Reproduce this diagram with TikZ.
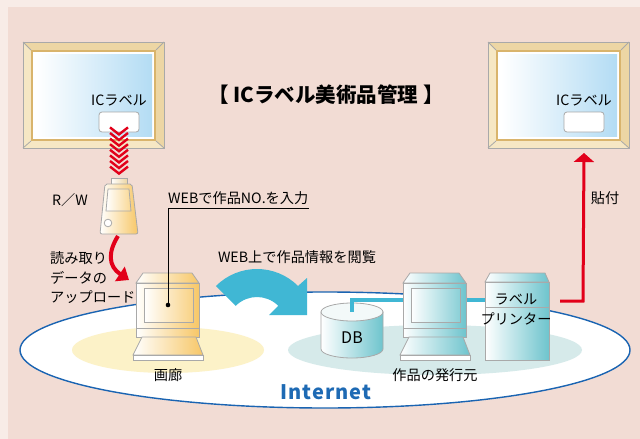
\documentclass[tikz,border=0pt]{standalone}
\usepackage{fontspec}
\setmainfont{Noto Sans CJK JP}
\usetikzlibrary{arrows.meta,calc}

\definecolor{bgout}{HTML}{F8ECE7}
\definecolor{bgpanel}{HTML}{F2DCD4}
\definecolor{moldlight}{HTML}{F6E7C4}
\definecolor{moldmid}{HTML}{EDD6A4}
\definecolor{molddark}{HTML}{D9B46C}
\definecolor{picblue}{HTML}{B3DCF4}
\definecolor{redc}{HTML}{E2001A}
\definecolor{tealc}{HTML}{40B7D4}
\definecolor{yellowell}{HTML}{FCF2C8}
\definecolor{tealell}{HTML}{D6EAEA}
\definecolor{inetblue}{HTML}{1E6AB4}
\definecolor{ellblue}{HTML}{1A64B2}
\definecolor{orangec}{HTML}{F7C767}
\definecolor{compteal}{HTML}{6EC4CD}
\definecolor{edgegray}{HTML}{A9A9A9}

\tikzset{
  x=1pt, y=-1pt,
  txt/.style={font=\fontsize{14.2}{19.5}\selectfont, inner sep=0pt},
  edge/.style={draw=edgegray, line width=0.8},
  tagbox/.style={draw=edgegray, fill=white, rounded corners=3, line width=0.8,
    minimum width=40, minimum height=20, inner sep=0pt},
  chevron/.style={draw=redc, line width=2.4},
  % picture frame with an IC tag on the canvas
  pics/artframe/.style={code={
    \fill[moldlight] (0,0) rectangle (141,106);
    \fill[moldmid] (0,0) -- (141,0) -- (133,8) -- (8,8) -- cycle;
    \fill[moldmid] (141,0) -- (141,106) -- (133,99) -- (133,8) -- cycle;
    \draw[edge] (0,0) rectangle (141,106);
    \draw[edge] (0,0) -- (8,8) (141,0) -- (133,8) (141,106) -- (133,99) (0,106) -- (8,99);
    \fill[molddark] (8,8) rectangle (133,99);
    \fill[white] (10,10) rectangle (131,97);
    \shade[left color=white, right color=picblue] (13,12) rectangle (129,94);
    \node[txt] (-lbl) at (96,58) {ICラベル};
    \node[tagbox] (-tag) at (96,80) {};
  }},
  % desktop computer, #1 is the tint colour
  pics/computer/.style={code={
    \shade[left color=white, right color=#1, edge] (7,0) -- (56,0) -- (63,10) -- (0,10) -- cycle;
    \shade[left color=white, right color=#1, edge] (0,10) rectangle (63,64);
    \draw[edge] (0,55) -- (63,55);
    \shade[left color=white, right color=#1!80, edge] (8,15) rectangle (57,49);
    \shade[left color=white, right color=#1, edge] (6,64) -- (60,64) -- (67,82) -- (-3,82) -- cycle;
    \fill[white] (-3,82) rectangle (67,87);
    \draw[edge] (-3,82) rectangle (67,87);
    \coordinate (-dot) at (32,32);
    \coordinate (-top) at (32,0);
  }},
}

\begin{document}
\begin{tikzpicture}
\useasboundingbox (0,0) rectangle (640,439);
% background
\fill[bgout] (0,0) rectangle (640,439);
\fill[bgpanel] (8,7) rectangle (640,439);

% network zone
\draw[ellblue, fill=white, line width=1.4] (325,350) ellipse [x radius=305, y radius=58];
\fill[yellowell] (168,350) ellipse [x radius=96, y radius=23];
\fill[tealell] (435,350) ellipse [x radius=147, y radius=25];
\node[font=\fontsize{20}{20}\selectfont\bfseries, text=inetblue, inner sep=0pt] (inet) at (326,392) {I\kern1pt n\kern1pt t\kern1pt e\kern1pt r\kern1pt n\kern1pt e\kern1pt t};

% title
\node[font=\fontsize{20.5}{20.5}\selectfont\bfseries, inner sep=0pt] (title) at (326,95) {【 ICラベル美術品管理 】};

% frames
\pic (frL) at (23,42) {artframe};
\pic (frR) at (488,42) {artframe};

% reader / writer
\shade[left color=white, right color=moldmid, edge] (111,178) rectangle (127,184);
\shade[left color=white, right color=orangec, edge, rounded corners=2]
  (105,184) -- (132,184) -- (138,234) -- (100,234) -- cycle;
\shade[left color=white, right color=orangec!70, edge] (108,189) -- (129,189) -- (131,211) -- (106,211) -- cycle;
\draw[edge, fill=white] (108,223) circle [radius=3.8];
\coordinate (rwtop) at (119,178);
\coordinate (rwbot) at (118,236);
\node[txt, anchor=center] (rwlbl) at (70,200) {R／W};

% tag -> reader chevrons
\foreach \i in {0,...,7} {
  \draw[chevron] ($(frL-tag.south)+(-9,-5+\i*5.6)$) -- ++(9,7) -- ++(9,-7);
}

% gallery and publisher computers
\pic (gal) at (136,273) {computer=orangec};
\node[txt] (gallbl) at (168,375) {画廊};

% connection line DB - computer - printer
\coordinate (dbtop) at (352,312);
\coordinate (prleft) at (485,300);
\draw[tealc, line width=3.5] (dbtop) -- (352,300) -- (prleft);

\pic (pub) at (403,273) {computer=compteal};
\node[txt] (publbl) at (435,375) {作品の発行元};

% database
\shade[left color=white, right color=compteal, edge]
  (321,312) -- (321,349) arc [start angle=180, end angle=0, x radius=31, y radius=9] -- (383,312) -- cycle;
\draw[edge, fill=white!70!tealell] (352,312) ellipse [x radius=31, y radius=9];
\draw[tealc, line width=3.5] (352,300) -- (dbtop);
\node[txt, font=\fontsize{16}{16}\selectfont] (db) at (352,338) {DB};

% label printer
\shade[left color=white, right color=compteal, edge] (490,273) -- (545,273) -- (549,282) -- (485,282) -- cycle;
\shade[left color=white, right color=compteal, edge] (485,282) rectangle (549,360);
\draw[edge] (485,307) -- (549,307);
\node[txt] (prt1) at (516,299) {ラベル};
\node[txt] (prt2) at (516,319) {プリンター};
\coordinate (prout) at (560,301);

% printer -> right frame
\draw[redc, line width=3, -{Triangle[length=9, width=20]}] (prout) -- (583,301) -- (frR-tag |- 0,153) coordinate (stick);
\node[txt] (sticklbl) at (605,198) {貼付};

% upload from reader to gallery
\draw[redc, line width=4, -{Triangle[length=11, width=17]}]
  (rwbot) .. controls (108,252) and (108,266) .. (129,280);
\node[txt, align=left, anchor=west] (uplbl) at (50,278) {読み取り\\データの\\アップロード};

% input of the item number on the web
\node[txt, anchor=south west] (weblbl) at (168,205) {WEBで作品NO.を入力};
\coordinate (ulend) at ($(weblbl.south east)+(0,3.5)$);
\draw[black, line width=0.8] (gal-dot) -- (gal-dot |- ulend) -- (ulend);
\fill (gal-dot) circle [radius=2.3];

% browsing on the web
\coordinate (bc) at (257,327);
\fill[tealc] ($(bc)+(-135:58)$) arc [start angle=-135, end angle=-45, radius=58]
  -- (307,278) -- (307,315) -- (269,315) -- ($(bc)+(-45:30)$)
  arc [start angle=-45, end angle=-135, radius=30] -- cycle;
\node[txt] (browselbl) at (297,257) {WEB上で作品情報を閲覧};
\end{tikzpicture}
\end{document}
